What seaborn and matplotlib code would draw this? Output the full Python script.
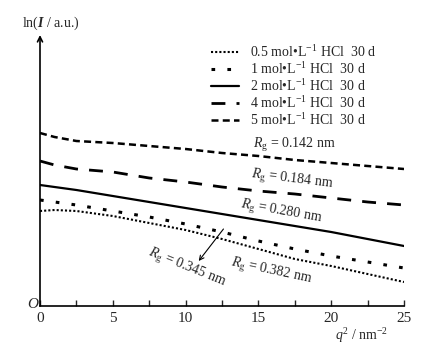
import matplotlib
matplotlib.use("Agg")
import matplotlib.pyplot as plt
import seaborn as sns
import pandas as pd

# ---- data ----
q2 = [0, 1, 2.5, 5, 7.5, 10, 12.5, 15, 17.5, 20, 22.5, 25]
ln_05 = [3.80, 3.84, 3.80, 3.60, 3.32, 3.04, 2.68, 2.28, 1.88, 1.60, 1.28, 0.96]
ln_1 = [4.24, 4.16, 4.04, 3.80, 3.56, 3.28, 2.96, 2.60, 2.28, 2.00, 1.76, 1.52]
ln_2 = [4.84, 4.76, 4.64, 4.40, 4.16, 3.92, 3.68, 3.44, 3.20, 2.96, 2.68, 2.40]
ln_4 = [5.80, 5.64, 5.48, 5.36, 5.12, 4.96, 4.76, 4.60, 4.48, 4.32, 4.16, 4.04]
ln_5 = [6.92, 6.76, 6.60, 6.52, 6.40, 6.28, 6.12, 6.00, 5.84, 5.72, 5.60, 5.48]

labels = ["0.5 mol\u2022L$^{-1}$ HCl  30 d",
          "1 mol\u2022L$^{-1}$ HCl  30 d",
          "2 mol\u2022L$^{-1}$ HCl  30 d",
          "4 mol\u2022L$^{-1}$ HCl  30 d",
          "5 mol\u2022L$^{-1}$ HCl  30 d"]
series = [ln_05, ln_1, ln_2, ln_4, ln_5]

rg_text = [r"$R_{\rm g}$ = 0.142 nm", r"$R_{\rm g}$ = 0.184 nm", r"$R_{\rm g}$ = 0.280 nm",
           r"$R_{\rm g}$ = 0.382 nm", r"$R_{\rm g}$ = 0.345 nm"]

xticks = [0, 5, 10, 15, 20, 25]

# ---- style ----
sns.set_style("white")
plt.rcParams["font.family"] = ["Liberation Serif", "DejaVu Serif"]
plt.rcParams["mathtext.fontset"] = "custom"
plt.rcParams["mathtext.rm"] = "Liberation Serif"
plt.rcParams["mathtext.it"] = "Liberation Serif:italic"
plt.rcParams["mathtext.bf"] = "Liberation Serif:bold"
plt.rcParams["mathtext.bfit"] = "Liberation Serif:italic:bold"

fig = plt.figure(figsize=(4.24, 3.56), dpi=100)
ax = fig.add_axes([40 / 424, 1 - 306 / 356, 364 / 424, 271 / 356])

styles = [
    dict(lw=1.5, dashes=(1, 1)),
    dict(lw=2.2, dashes=(1.2, 4.0)),
    dict(lw=1.6, dashes=None),
    dict(lw=2.0, dashes=(5, 4)),
    dict(lw=1.8, dashes=(2.8, 1.7)),
]

for y, lab, st in zip(series, labels, styles):
    df = pd.DataFrame({"q2": q2, "lnI": y})
    sns.lineplot(data=df, x="q2", y="lnI", ax=ax, color="black",
                 lw=st["lw"], label=lab)
    l = ax.get_lines()[-1]
    if st["dashes"] is not None:
        l.set_dashes(st["dashes"])

ax.set_xlim(0, 25)
ax.set_ylim(0, 10.84)
ax.set_xticks(xticks)
ax.set_xticks([2.5, 7.5, 12.5, 17.5, 22.5], minor=True)
ax.tick_params(axis="x", which="both", direction="in", length=4, width=1,
               labelsize=11, pad=4, bottom=True)
ax.set_yticks([])
ax.set_xlabel("")
ax.set_ylabel("")
for s in ["top", "right", "left"]:
    ax.spines[s].set_visible(False)
ax.spines["bottom"].set_linewidth(1.2)
ax.spines["bottom"].set_color("black")

# y axis with arrow
ax.annotate("", xy=(0, 1.0), xytext=(0, 0), xycoords="axes fraction",
            arrowprops=dict(arrowstyle="->", lw=1.2, color="black",
                            shrinkA=0, shrinkB=0, mutation_scale=9))

leg = ax.legend(loc="upper left", bbox_to_anchor=(211 / 424, 1 - 44 / 356),
                bbox_transform=fig.transFigure, frameon=False, fontsize=10,
                handlelength=2.0, handletextpad=0.8, labelspacing=0.08,
                borderpad=0, borderaxespad=0)

# axis labels
fig.text(51 / 424, 1 - 23 / 356, r"ln($\boldsymbol{I}$ / a.u.)", ha="center",
         va="center", fontsize=10)
fig.text(362 / 424, 1 - 336 / 356, r"$q^2$ / nm$^{-2}$", ha="center",
         va="center", fontsize=10)
fig.text(33 / 424, 1 - 305 / 356, "O", ha="center", va="center", fontsize=11,
         style="italic")

# Rg annotations
ax.text(17.5, 6.44, rg_text[0], ha="center", va="center", fontsize=10)
ax.text(17.3, 5.04, rg_text[1], ha="center", va="center", fontsize=10, rotation=-7)
ax.text(16.6, 3.76, rg_text[2], ha="center", va="center", fontsize=10, rotation=-10)
ax.text(15.9, 1.36, rg_text[3], ha="center", va="center", fontsize=10, rotation=-12)
ax.text(10.1, 1.52, rg_text[4], ha="center", va="center", fontsize=10, rotation=-22)
ax.annotate("", xy=(10.9, 1.80), xytext=(12.6, 3.08),
            arrowprops=dict(arrowstyle="->", lw=0.8, color="black",
                            shrinkA=0, shrinkB=0, mutation_scale=8))

fig.savefig("out.png", dpi=100)
